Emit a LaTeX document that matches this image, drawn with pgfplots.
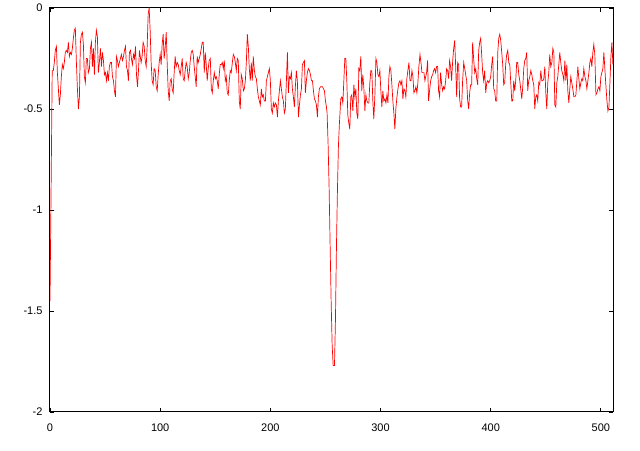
\documentclass[border=0pt]{standalone}
\usepackage{fontspec}
\setmainfont{Liberation Sans}
\usepackage{pgfplots}
\pgfplotsset{compat=1.18}
\usepackage{pgfplotstable}
\pgfplotstableread{
x y
0 -1.45
1 -0.89
2 -0.31
3.0 -0.31
3.9 -0.27
4.8 -0.21
5.8 -0.19
6.7 -0.32
7.6 -0.40
8.5 -0.48
9.4 -0.43
10.3 -0.34
11.2 -0.28
12.1 -0.30
13.0 -0.27
13.9 -0.22
14.8 -0.21
15.8 -0.22
16.7 -0.17
17.6 -0.24
18.5 -0.22
19.4 -0.23
20.3 -0.20
21.2 -0.15
22.1 -0.11
23.0 -0.10
23.9 -0.26
24.8 -0.39
25.8 -0.50
26.7 -0.44
27.6 -0.17
28.5 -0.13
29.4 -0.12
30.3 -0.18
31.2 -0.34
32.1 -0.37
33.0 -0.25
33.9 -0.25
34.8 -0.32
35.8 -0.30
36.7 -0.20
37.6 -0.17
38.5 -0.29
39.4 -0.20
40.3 -0.33
41.2 -0.17
42.1 -0.11
43.0 -0.14
43.9 -0.32
44.8 -0.27
45.8 -0.20
46.7 -0.29
47.6 -0.22
48.5 -0.26
49.4 -0.33
50.3 -0.32
51.2 -0.36
52.1 -0.32
53.0 -0.36
53.9 -0.29
54.8 -0.27
55.8 -0.27
56.7 -0.34
57.6 -0.36
58.5 -0.41
59.4 -0.44
60.3 -0.24
61.2 -0.26
62.1 -0.29
63.0 -0.27
63.9 -0.25
64.8 -0.23
65.8 -0.26
66.7 -0.24
67.6 -0.21
68.5 -0.19
69.4 -0.29
70.3 -0.31
71.2 -0.36
72.1 -0.22
73.0 -0.21
73.9 -0.25
74.8 -0.28
75.8 -0.23
76.7 -0.25
77.6 -0.19
78.5 -0.33
79.4 -0.39
80.3 -0.31
81.2 -0.21
82.7 -0.27
83.6 -0.24
84.5 -0.17
85.5 -0.19
86.4 -0.26
87.3 -0.29
88.2 -0.19
89.1 -0.03
90.0 0.00
90.9 -0.11
91.8 -0.27
92.7 -0.36
93.6 -0.38
94.5 -0.30
95.5 -0.31
96.4 -0.39
97.3 -0.41
98.2 -0.33
99.1 -0.27
100.0 -0.23
100.9 -0.28
101.8 -0.18
102.7 -0.13
103.6 -0.25
104.5 -0.20
105.5 -0.12
106.4 -0.28
107.3 -0.41
108.2 -0.46
109.1 -0.36
110.0 -0.35
110.9 -0.40
111.8 -0.42
112.7 -0.32
113.6 -0.24
114.5 -0.29
115.5 -0.27
116.4 -0.28
117.3 -0.31
118.2 -0.33
119.1 -0.29
120.0 -0.25
120.9 -0.35
121.8 -0.36
122.7 -0.31
123.6 -0.27
124.5 -0.29
125.5 -0.35
126.4 -0.32
127.3 -0.26
128.2 -0.22
129.1 -0.21
130.0 -0.23
130.9 -0.29
131.8 -0.34
132.7 -0.39
133.6 -0.24
134.5 -0.27
135.5 -0.25
136.4 -0.23
137.3 -0.20
138.2 -0.17
139.1 -0.17
140.0 -0.32
140.9 -0.22
141.8 -0.28
142.7 -0.36
143.6 -0.30
144.5 -0.26
145.5 -0.25
146.4 -0.40
147.3 -0.42
148.2 -0.36
149.1 -0.32
150.0 -0.35
150.9 -0.34
151.8 -0.36
152.7 -0.40
153.6 -0.33
154.5 -0.28
155.5 -0.28
156.4 -0.27
157.3 -0.30
158.2 -0.26
159.1 -0.36
160.0 -0.34
160.9 -0.42
161.8 -0.43
162.7 -0.36
163.6 -0.31
164.5 -0.32
165.5 -0.27
166.4 -0.23
167.3 -0.24
168.2 -0.27
169.1 -0.31
170.0 -0.25
170.9 -0.26
171.8 -0.46
172.7 -0.50
173.6 -0.33
174.5 -0.35
175.5 -0.41
176.4 -0.40
177.3 -0.36
178.2 -0.27
179.1 -0.13
180.0 -0.19
180.9 -0.30
181.8 -0.36
182.7 -0.27
183.6 -0.36
184.5 -0.24
185.5 -0.31
186.4 -0.34
187.3 -0.35
188.2 -0.40
189.1 -0.44
190.0 -0.46
190.9 -0.48
191.8 -0.40
192.7 -0.44
193.6 -0.43
194.5 -0.46
195.5 -0.46
196.4 -0.36
197.3 -0.34
198.2 -0.32
199.1 -0.30
200.0 -0.36
200.9 -0.50
201.8 -0.52
202.7 -0.47
203.6 -0.49
204.5 -0.47
205.5 -0.48
206.4 -0.54
207.3 -0.46
208.2 -0.41
209.1 -0.36
210.0 -0.40
210.9 -0.44
211.8 -0.46
212.7 -0.52
213.6 -0.50
214.5 -0.37
215.5 -0.22
216.4 -0.42
217.3 -0.34
218.2 -0.35
219.1 -0.32
220.0 -0.40
220.9 -0.44
221.8 -0.49
222.7 -0.39
223.6 -0.31
224.5 -0.36
225.5 -0.54
226.4 -0.48
227.3 -0.43
228.2 -0.40
229.1 -0.28
230.0 -0.27
230.9 -0.26
231.8 -0.42
232.7 -0.36
233.6 -0.32
234.5 -0.30
235.5 -0.31
236.4 -0.33
237.3 -0.36
238.2 -0.36
239.1 -0.41
240.0 -0.45
240.9 -0.46
241.8 -0.48
242.7 -0.54
243.6 -0.44
244.5 -0.40
245.5 -0.39
246.4 -0.39
247.3 -0.39
248.2 -0.40
249.1 -0.41
250.0 -0.46
250.9 -0.49
251.5 -0.52
252.4 -0.67
253.3 -0.88
254.2 -1.16
255.2 -1.46
256.1 -1.67
257.0 -1.77
258.2 -1.77
259.1 -1.54
260.0 -1.18
260.9 -0.90
261.8 -0.68
262.7 -0.57
263.4 -0.50
263.9 -0.45
264.9 -0.44
265.8 -0.47
266.7 -0.36
267.6 -0.25
268.5 -0.25
269.4 -0.36
270.3 -0.53
271.2 -0.57
272.1 -0.60
273.0 -0.44
273.9 -0.43
274.9 -0.51
275.8 -0.38
276.7 -0.44
277.6 -0.40
278.5 -0.52
279.4 -0.55
280.3 -0.30
281.2 -0.31
282.1 -0.24
283.0 -0.41
283.9 -0.33
284.8 -0.39
285.8 -0.51
286.7 -0.43
287.6 -0.46
288.5 -0.47
289.4 -0.47
290.3 -0.37
291.2 -0.31
292.1 -0.31
293.0 -0.46
293.9 -0.55
294.9 -0.43
295.8 -0.25
296.7 -0.27
297.6 -0.33
298.5 -0.34
299.4 -0.31
300.3 -0.41
301.2 -0.49
302.1 -0.41
303.0 -0.46
303.9 -0.45
304.9 -0.47
305.8 -0.43
306.7 -0.47
307.6 -0.34
308.5 -0.29
309.4 -0.31
310.3 -0.38
311.2 -0.46
312.1 -0.52
313.0 -0.60
313.9 -0.50
314.9 -0.44
315.8 -0.40
316.7 -0.37
317.6 -0.36
318.5 -0.38
319.4 -0.36
320.3 -0.45
321.2 -0.40
322.1 -0.41
323.0 -0.44
323.9 -0.35
324.8 -0.31
325.8 -0.27
326.7 -0.36
327.6 -0.36
328.5 -0.31
329.4 -0.34
330.3 -0.42
331.2 -0.41
332.1 -0.39
333.0 -0.42
333.9 -0.37
334.8 -0.29
335.8 -0.23
336.7 -0.27
337.6 -0.32
338.5 -0.32
339.4 -0.32
340.3 -0.36
341.8 -0.32
342.7 -0.26
343.6 -0.46
344.5 -0.41
345.5 -0.36
346.4 -0.34
347.3 -0.33
348.2 -0.31
349.1 -0.30
350.0 -0.32
350.9 -0.29
351.8 -0.29
352.7 -0.41
353.6 -0.44
354.5 -0.32
355.5 -0.38
356.4 -0.41
357.3 -0.39
358.2 -0.40
359.1 -0.36
360.0 -0.30
360.9 -0.31
361.8 -0.35
362.7 -0.26
363.6 -0.29
364.5 -0.36
365.5 -0.26
366.4 -0.20
367.3 -0.16
368.2 -0.29
369.1 -0.44
370.0 -0.27
370.9 -0.28
371.8 -0.45
372.7 -0.49
373.6 -0.49
374.5 -0.36
375.5 -0.27
376.4 -0.30
377.3 -0.33
378.2 -0.36
379.1 -0.46
380.0 -0.50
380.9 -0.42
381.8 -0.38
382.7 -0.38
383.6 -0.17
384.5 -0.25
385.5 -0.32
386.4 -0.30
387.3 -0.35
388.2 -0.38
389.1 -0.21
390.0 -0.17
390.9 -0.15
391.8 -0.23
392.7 -0.32
393.6 -0.36
394.5 -0.31
395.5 -0.42
396.4 -0.37
397.3 -0.36
398.2 -0.37
399.1 -0.36
400.0 -0.34
400.9 -0.28
401.8 -0.24
402.7 -0.40
403.6 -0.41
404.5 -0.46
405.5 -0.46
406.4 -0.22
407.3 -0.15
408.2 -0.13
409.1 -0.16
410.0 -0.22
410.9 -0.28
411.8 -0.38
412.7 -0.37
413.6 -0.28
414.5 -0.23
415.5 -0.21
416.4 -0.27
417.3 -0.28
418.2 -0.37
419.1 -0.46
420.0 -0.46
420.9 -0.36
421.8 -0.41
422.7 -0.36
423.6 -0.27
424.5 -0.27
425.5 -0.33
426.4 -0.36
428.2 -0.45
429.1 -0.39
430.0 -0.30
430.9 -0.26
431.8 -0.25
432.7 -0.22
433.6 -0.41
434.5 -0.36
435.5 -0.34
436.4 -0.31
437.3 -0.33
438.2 -0.36
439.1 -0.38
440.0 -0.50
440.9 -0.44
441.8 -0.43
442.7 -0.46
443.6 -0.37
444.5 -0.38
445.5 -0.31
446.4 -0.36
447.3 -0.36
448.2 -0.35
449.1 -0.29
450.0 -0.42
450.9 -0.50
451.8 -0.37
452.7 -0.32
453.6 -0.23
454.5 -0.29
455.5 -0.27
456.4 -0.20
457.3 -0.22
458.2 -0.48
459.1 -0.49
460.0 -0.37
460.9 -0.34
461.8 -0.28
462.7 -0.22
463.6 -0.27
464.5 -0.31
465.5 -0.33
466.4 -0.36
467.3 -0.26
468.2 -0.36
469.1 -0.28
470.0 -0.41
470.9 -0.47
471.8 -0.40
472.7 -0.34
473.6 -0.37
474.5 -0.40
475.5 -0.44
476.4 -0.44
477.3 -0.43
478.2 -0.36
479.1 -0.29
480.0 -0.35
480.9 -0.40
481.8 -0.37
482.7 -0.35
483.6 -0.36
484.5 -0.30
485.5 -0.34
486.4 -0.36
487.3 -0.40
488.2 -0.36
489.1 -0.32
490.0 -0.27
490.9 -0.25
491.8 -0.29
492.7 -0.22
493.6 -0.18
494.5 -0.23
495.5 -0.43
496.4 -0.42
497.3 -0.40
498.2 -0.39
499.1 -0.41
500.0 -0.34
500.9 -0.32
501.8 -0.30
502.7 -0.22
503.6 -0.30
504.5 -0.38
505.5 -0.46
506.4 -0.51
507.3 -0.49
508.2 -0.37
509.1 -0.24
510.0 -0.17
510.9 -0.28
}\sig
\begin{document}
\begin{tikzpicture}
\path (0,0) rectangle (640pt,450pt);
\begin{axis}[
  at={(50pt,38pt)}, anchor=south west,
  scale only axis, width=563pt, height=404pt,
  xmin=0, xmax=511, ymin=-2, ymax=0,
  xtick={0,100,200,300,400,500},
  xticklabels={0,100,200,300,400,500},
  ytick={-2,-1.5,-1,-0.5,0},
  yticklabels={-2,-1.5,-1,-0.5,0},
  tick align=inside, major tick length=4pt,
  axis line style={line width=1pt},
  tick style={black, line width=0.8pt},
  ticklabel style={font=\fontsize{11}{13}\selectfont},
  xticklabel style={yshift=-8pt},
  yticklabel style={xshift=-4pt},
]
\addplot[red, line width=0.7pt] table[x=x, y=y] {\sig};
\end{axis}
\end{tikzpicture}
\end{document}
